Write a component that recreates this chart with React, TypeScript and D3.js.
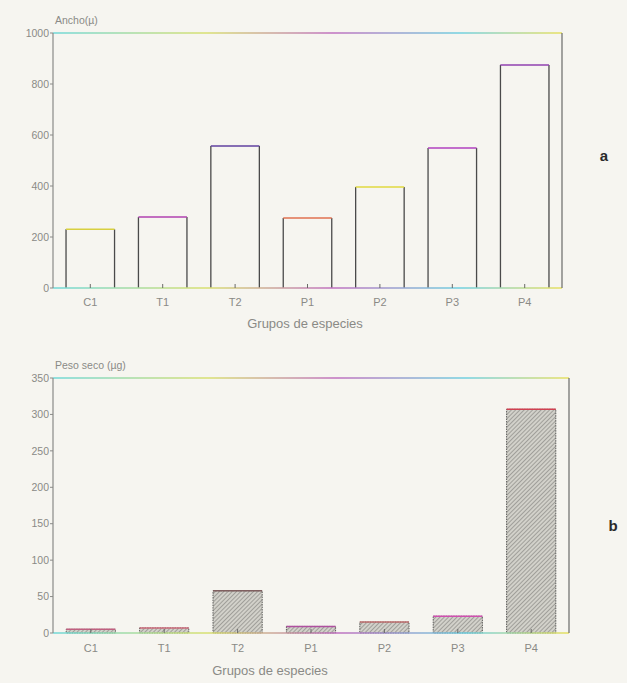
import React from "react";
import * as d3 from "d3";

const categories = ["C1", "T1", "T2", "P1", "P2", "P3", "P4"];
const anchoValues = [230, 278, 557, 275, 396, 549, 875];
const pesoValues = [5, 7, 58, 9, 15, 23, 307];
const anchoTicks = [0, 200, 400, 600, 800, 1000];
const pesoTicks = [0, 50, 100, 150, 200, 250, 300, 350];

const topColorsA = ["#d8d040", "#b040b0", "#6040a0", "#e07050", "#e0d840", "#b040c0", "#9040b0"];
const topColorsB = ["#c06080", "#d07080", "#806060", "#b050a0", "#c07070", "#d050b0", "#d04050"];

const FONT = "'Liberation Sans', Arial, sans-serif";
const TXT = "#8a8a86";

type PanelProps = {
  id: string;
  left: number; right: number; top: number; bottom: number;
  yMax: number; ticks: number[]; values: number[];
  yLabel: string; letter: string; letterX: number; letterY: number;
  hatched: boolean; topColors: string[];
  xLabelY: number; titleY: number; titleX: number;
};

function Panel(p: PanelProps) {
  const x = d3.scaleBand<string>().domain(categories).range([p.left, p.right]).paddingInner(0.33).paddingOuter(0.18);
  const y = d3.scaleLinear().domain([0, p.yMax]).range([p.bottom, p.top]);
  const gid = `grad-${p.id}`;
  return (
    <g>
      <defs>
        <linearGradient id={gid} gradientUnits="userSpaceOnUse" x1={p.left} x2={p.right} y1={0} y2={0}>
          <stop offset="0" stopColor="#70d8d8" />
          <stop offset="0.3" stopColor="#d8e070" />
          <stop offset="0.55" stopColor="#c070c0" />
          <stop offset="0.8" stopColor="#70d0e0" />
          <stop offset="1" stopColor="#e8e060" />
        </linearGradient>
        <pattern id={`hatch-${p.id}`} width="3" height="3" patternUnits="userSpaceOnUse" patternTransform="rotate(45)">
          <rect width="3" height="3" fill="#d2d1ca" />
          <line x1="0" y1="0" x2="0" y2="3" stroke="#6e6d6a" strokeWidth="1" />
        </pattern>
      </defs>
      {p.values.map((v, i) => {
        const bx = x(categories[i])!;
        const bw = x.bandwidth();
        const by = y(v);
        const h = y(0) - by;
        if (p.hatched) {
          return (
            <g key={i}>
              <rect x={bx} y={by} width={bw} height={h} fill={`url(#hatch-${p.id})`} stroke="#5a5a58" strokeWidth={1} strokeDasharray="1.5,1" />
              <line x1={bx} x2={bx + bw} y1={by} y2={by} stroke={p.topColors[i]} strokeWidth={1.5} />
            </g>
          );
        }
        return (
          <g key={i}>
            <line x1={bx} x2={bx} y1={by} y2={y(0)} stroke="#4a4a4a" strokeWidth={1.3} />
            <line x1={bx + bw} x2={bx + bw} y1={by} y2={y(0)} stroke="#4a4a4a" strokeWidth={1.3} />
            <line x1={bx} x2={bx + bw} y1={by} y2={by} stroke={p.topColors[i]} strokeWidth={1.5} />
          </g>
        );
      })}
      <line x1={p.left} x2={p.right} y1={p.top} y2={p.top} stroke={`url(#${gid})`} strokeWidth={1.5} />
      <line x1={p.left} x2={p.right} y1={p.bottom} y2={p.bottom} stroke={`url(#${gid})`} strokeWidth={1.5} />
      <line x1={p.right} x2={p.right} y1={p.top} y2={p.bottom} stroke="#6a6a68" strokeWidth={1.2} />
      <line x1={p.left} x2={p.left} y1={p.top} y2={p.bottom} stroke="#8a8a88" strokeWidth={1.2} />
      {p.ticks.map((t) => (
        <g key={t}>
          <line x1={p.left - 3} x2={p.left} y1={y(t)} y2={y(t)} stroke="#8a8a88" strokeWidth={1} />
          <text x={p.left - 4} y={y(t)} dy="0.35em" textAnchor="end" fontSize={10.5} fill={TXT} fontFamily={FONT}>{t}</text>
        </g>
      ))}
      {categories.map((c) => {
        const cx = x(c)! + x.bandwidth() / 2;
        return (
          <g key={c}>
            <line x1={cx} x2={cx} y1={p.bottom} y2={p.bottom - 4} stroke="#6a6a68" strokeWidth={1} />
            <text x={cx} y={p.xLabelY} dy="0.35em" textAnchor="middle" fontSize={11} fill={TXT} fontFamily={FONT}>{c}</text>
          </g>
        );
      })}
      <text x={p.titleX} y={p.titleY} dy="0.35em" textAnchor="middle" fontSize={13} fill={TXT} fontFamily={FONT}>Grupos de especies</text>
      <text x={p.left + 2} y={p.top - 9} fontSize={10.5} fill={TXT} fontFamily={FONT}>{p.yLabel}</text>
      <text x={p.letterX} y={p.letterY} dy="0.35em" textAnchor="middle" fontSize={15} fontWeight="bold" fill="#2a2a2a" fontFamily={FONT}>{p.letter}</text>
    </g>
  );
}

export default function App() {
  return (
    <svg width={627} height={683} style={{ position: "absolute", left: 0, top: 0, background: "#f6f5f0" }}>
      <rect width={627} height={683} fill="#f6f5f0" />
      <Panel id="a" left={53} right={562} top={33} bottom={288} yMax={1000} ticks={anchoTicks} values={anchoValues}
        yLabel="Ancho(µ)" letter="a" letterX={604} letterY={156} hatched={false} topColors={topColorsA}
        xLabelY={302} titleY={323} titleX={305} />
      <Panel id="b" left={53} right={569} top={378} bottom={633} yMax={350} ticks={pesoTicks} values={pesoValues}
        yLabel="Peso seco (µg)" letter="b" letterX={613} letterY={526} hatched={true} topColors={topColorsB}
        xLabelY={648} titleY={670} titleX={270} />
    </svg>
  );
}
